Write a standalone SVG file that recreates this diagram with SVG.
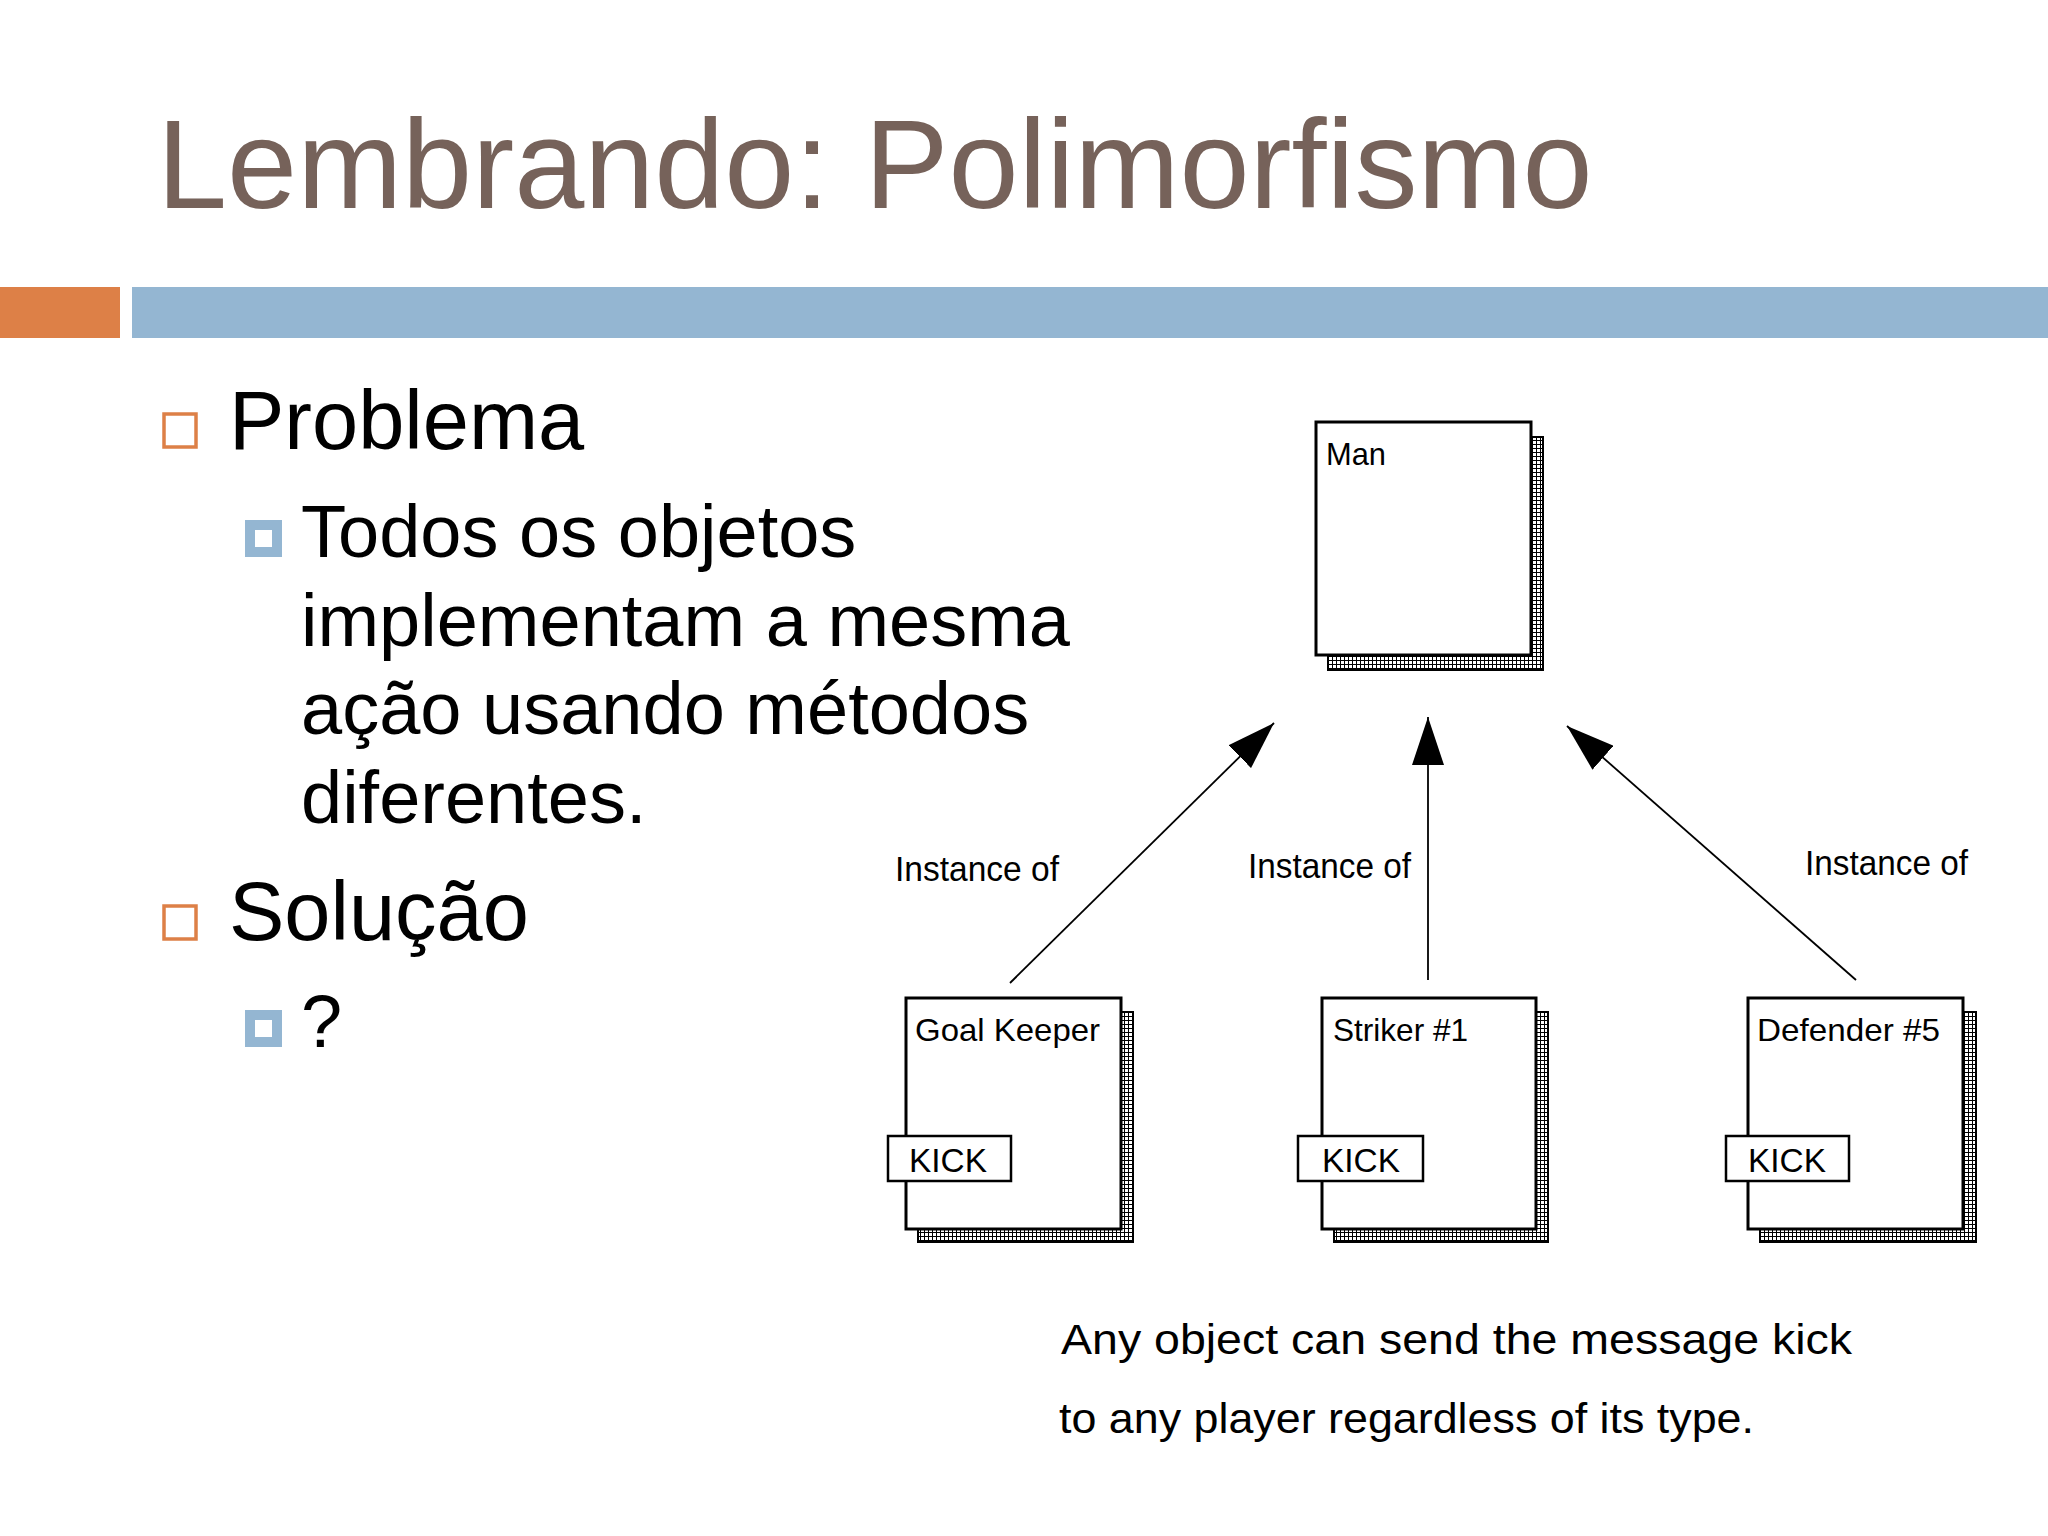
<svg xmlns="http://www.w3.org/2000/svg" width="2048" height="1536" viewBox="0 0 2048 1536">
<style>
.title{font-family:"Liberation Sans",Arial,sans-serif;font-size:126px;fill:#76625A}
.l1{font-family:"Liberation Sans",Arial,sans-serif;font-size:83px;fill:#000}
.l2{font-family:"Liberation Sans",Arial,sans-serif;font-size:74px;fill:#000}
.b1{fill:none;stroke:#DD8047;stroke-width:3.5}
.b2{fill:#94B6D2}
.box{fill:#fff;stroke:#000;stroke-width:3}
.shadow{fill:url(#dots);stroke:#000;stroke-width:2}
.kick{fill:#fff;stroke:#000;stroke-width:2.5}
.lbl{font-family:"Liberation Sans",Arial,sans-serif;font-size:32px;fill:#000}
.kt{font-family:"Liberation Sans",Arial,sans-serif;font-size:34px;fill:#000}
.inst{font-family:"Liberation Sans",Arial,sans-serif;font-size:35px;fill:#000}
.cap{font-family:"Liberation Sans",Arial,sans-serif;font-size:42px;fill:#000}
.conn{stroke:#000;stroke-width:1.8;fill:none;marker-end:url(#arr)}
</style>
<defs>
<pattern id="dots" width="4" height="4" patternUnits="userSpaceOnUse">
<rect width="4" height="4" fill="#000"/>
<rect x="1" y="1" width="3" height="3" fill="#fff"/>
</pattern>
<marker id="arr" markerUnits="userSpaceOnUse" markerWidth="50" markerHeight="32" refX="48" refY="16" orient="auto">
<path d="M0,0 L48,16 L0,32 Z" fill="#000"/>
</marker>
</defs>
<rect width="2048" height="1536" fill="#fff"/>
<text class="title" x="157" y="208">Lembrando: Polimorfismo</text>
<rect x="0" y="287" width="120" height="51" fill="#DD8047"/>
<rect x="132" y="287" width="1916" height="51" fill="#94B6D2"/>

<g id="bullets">
<rect class="b1" x="164" y="414" width="32" height="33"/>
<text class="l1" x="229" y="449">Problema</text>
<rect class="b2" x="245" y="520" width="37" height="37"/>
<rect x="255" y="530" width="17" height="17" fill="#fff"/>
<text class="l2" x="301" y="557">Todos os objetos</text>
<text class="l2" x="301" y="646">implementam a mesma</text>
<text class="l2" x="301" y="734">ação usando métodos</text>
<text class="l2" x="301" y="823">diferentes.</text>
<rect class="b1" x="164" y="906" width="32" height="33"/>
<text class="l1" x="229" y="940">Solução</text>
<rect class="b2" x="245" y="1010" width="37" height="37"/>
<rect x="255" y="1020" width="17" height="17" fill="#fff"/>
<text class="l2" x="301" y="1047">?</text>
</g>

<g id="connectors">
<line class="conn" x1="1010" y1="983" x2="1274" y2="723"/>
<line class="conn" x1="1428" y1="980" x2="1428" y2="717"/>
<line class="conn" x1="1856" y1="980" x2="1567" y2="726"/>
<text class="inst" x="895" y="881" textLength="164" lengthAdjust="spacingAndGlyphs">Instance of</text>
<text class="inst" x="1248" y="878" textLength="163" lengthAdjust="spacingAndGlyphs">Instance of</text>
<text class="inst" x="1805" y="875" textLength="163" lengthAdjust="spacingAndGlyphs">Instance of</text>
</g>

<g id="man">
<rect class="shadow" x="1328" y="437" width="215" height="233"/>
<rect class="box" x="1316" y="422" width="215" height="233"/>
<text class="lbl" x="1326" y="465" textLength="60" lengthAdjust="spacingAndGlyphs">Man</text>
</g>

<g id="goalkeeper">
<rect class="shadow" x="918" y="1012" width="215" height="230"/>
<rect class="box" x="906" y="998" width="215" height="231"/>
<text class="lbl" x="915" y="1041" textLength="185" lengthAdjust="spacingAndGlyphs">Goal Keeper</text>
<rect class="kick" x="888" y="1136" width="123" height="45"/>
<text class="kt" x="909" y="1172" textLength="78" lengthAdjust="spacingAndGlyphs">KICK</text>
</g>

<g id="striker">
<rect class="shadow" x="1334" y="1012" width="214" height="230"/>
<rect class="box" x="1322" y="998" width="214" height="231"/>
<text class="lbl" x="1333" y="1041" textLength="135" lengthAdjust="spacingAndGlyphs">Striker #1</text>
<rect class="kick" x="1298" y="1136" width="125" height="45"/>
<text class="kt" x="1322" y="1172" textLength="78" lengthAdjust="spacingAndGlyphs">KICK</text>
</g>

<g id="defender">
<rect class="shadow" x="1760" y="1012" width="216" height="230"/>
<rect class="box" x="1748" y="998" width="215" height="231"/>
<text class="lbl" x="1757" y="1041" textLength="183" lengthAdjust="spacingAndGlyphs">Defender #5</text>
<rect class="kick" x="1726" y="1136" width="123" height="45"/>
<text class="kt" x="1748" y="1172" textLength="78" lengthAdjust="spacingAndGlyphs">KICK</text>
</g>

<g id="caption">
<text class="cap" x="1061" y="1354" textLength="791" lengthAdjust="spacingAndGlyphs">Any object can send the message kick</text>
<text class="cap" x="1059" y="1433" textLength="695" lengthAdjust="spacingAndGlyphs">to any player regardless of its type.</text>
</g>
</svg>
